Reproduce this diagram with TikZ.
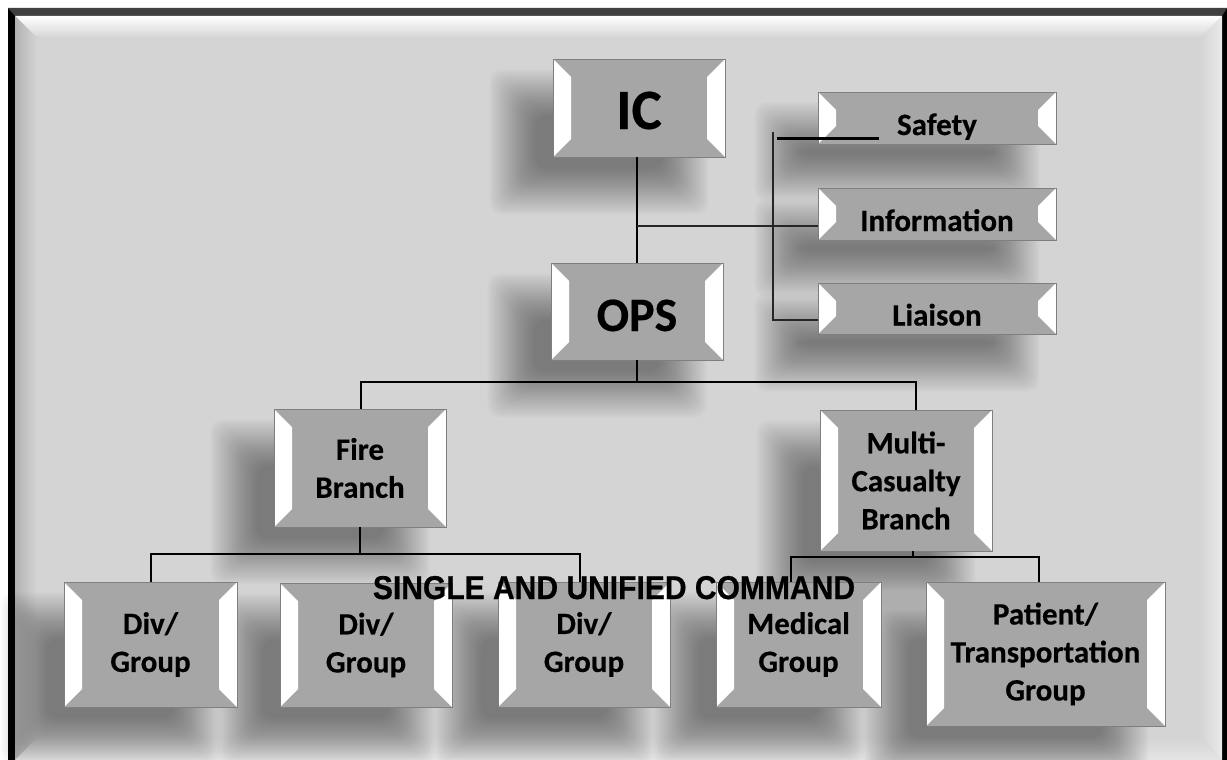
\documentclass[tikz,border=0pt]{standalone}
\usepackage{fontspec}
\setmainfont[FakeBold=0.4]{Carlito}
\newfontfamily\capfont[FakeBold=0.6]{Liberation Sans}
\usetikzlibrary{calc}
\definecolor{bggray}{HTML}{D4D4D4}
\definecolor{boxgray}{HTML}{A6A6A6}
\definecolor{edgegray}{HTML}{7F7F7F}
\pgfdeclarelayer{framelayer}
\pgfdeclarelayer{shadelayer}
\pgfsetlayers{framelayer,shadelayer,main}
\tikzset{
  bevbox/.style n args={2}{draw=edgegray, line width=0.8pt, fill=boxgray, inner sep=0pt,
    align=center, minimum width=#1, minimum height=#2,
    font=\bfseries\fontsize{31}{38}\selectfont,
    path picture={
      \fill[white] (path picture bounding box.north west) -- ++(18pt,-18pt)
        -- ([shift={(18pt,18pt)}]path picture bounding box.south west)
        -- (path picture bounding box.south west) -- cycle;
      \fill[white] (path picture bounding box.north east) -- ++(-18pt,-18pt)
        -- ([shift={(-18pt,18pt)}]path picture bounding box.south east)
        -- (path picture bounding box.south east) -- cycle;
    }},
  slim/.style={text height=34pt, text depth=0pt},
  shadowpiece/.style={fill=black, opacity=0.021, rounded corners=12pt},
  link/.style={line width=2pt, black},
  thinlink/.style={line width=1.1pt, black!85},
}
\newcommand\boxshade[1]{%
  \foreach \k in {0,...,23}{%
    \pgfmathsetmacro\ee{23-2*\k}%
    \pgfmathsetmacro\ax{-40-\ee}%
    \pgfmathsetmacro\ay{-34+\ee}%
    \pgfmathsetmacro\bx{-40+\ee}%
    \pgfmathsetmacro\by{-34-\ee}%
    \fill[shadowpiece] ([shift={(\ax pt,\ay pt)}]#1.north west)
      rectangle ([shift={(\bx pt,\by pt)}]#1.south east);
  }}
\begin{document}
\begin{tikzpicture}[x=1pt,y=-1pt]
\useasboundingbox (0,0) rectangle (1227,760);
% frame
\begin{pgfonlayer}{framelayer}
\fill[white] (0,0) rectangle (1227,760);
\fill[black] (8,8) rectangle (1227,760);
\fill[black!75] (8,8) -- (1227,8) -- (1222,16) -- (15,16) -- cycle;
\fill[bggray] (15,16) rectangle (1222,760);
\shade[top color=white, bottom color=bggray] (15,16) -- (1222,16) -- (1200,38) -- (37,38) -- cycle;
\shade[left color=black!30, right color=bggray] (15,16) -- (37,38) -- (37,738) -- (15,760) -- cycle;
\shade[left color=bggray, right color=black!8] (1222,16) -- (1200,38) -- (1200,738) -- (1222,760) -- cycle;
\shade[top color=bggray, bottom color=black!10] (37,738) -- (1200,738) -- (1222,760) -- (15,760) -- cycle;
\end{pgfonlayer}
% boxes
\node[bevbox={172pt}{98pt}, font=\bfseries\fontsize{57}{60}\selectfont,
      text height=42pt, text depth=0pt] (IC) at (639,108) {IC};
\node[bevbox={172pt}{97pt}, font=\bfseries\fontsize{48}{52}\selectfont,
      text height=39pt, text depth=0pt] (OPS) at (637,311.5) {OPS};
\node[bevbox={238pt}{52pt}, slim] (SAF) at (937,118) {Safety};
\node[bevbox={238pt}{52pt}, slim] (INF) at (937,214) {Information};
\node[bevbox={238pt}{51pt}, slim] (LIA) at (937,308.5) {Liaison};
\node[bevbox={172pt}{118pt}] (FB) at (360,468) {Fire\\Branch};
\node[bevbox={172pt}{141pt}] (MCB) at (906,480.5) {Multi-\\Casualty\\Branch};
\node[bevbox={173pt}{125pt}] (DG1) at (150.5,644.5) {Div/\\Group};
\node[bevbox={172pt}{124pt}] (DG2) at (366,645) {Div/\\Group};
\node[bevbox={172pt}{125pt}] (DG3) at (584,644.5) {Div/\\Group};
\node[bevbox={165pt}{125pt}] (MED) at (798.5,644.5) {Medical\\Group};
\node[bevbox={239pt}{144pt}] (PAT) at (1045.5,654) {Patient/\\Transportation\\Group};
% shadows
\begin{pgfonlayer}{shadelayer}
\foreach \n in {IC,OPS,SAF,INF,LIA,FB,MCB,DG1,DG2,DG3,MED,PAT}{\boxshade{\n}}
\end{pgfonlayer}
% connectors
\coordinate (J1) at (637,226);
\coordinate (V1) at (773,132);
\coordinate (V2) at (773,320);
\coordinate (S1) at (777,138);
\coordinate (S2) at (879,138);
\draw[link] (IC.south -| OPS.north) -- (OPS.north);
\draw[thinlink] (J1) -- (J1 -| INF.west);
\draw[thinlink] (V1) -- (V2) -- (V2 -| LIA.west);
\draw[line width=3pt] (S1) -- (S2);
\draw[link] (OPS.south) -- ++(0,22);
\draw[link] ([xshift=1pt]FB.north) -- ++(0,-27) -| ([xshift=10pt]MCB.north);
\draw[link] (FB.south) -- ++(0,27);
\draw[link] (DG1.north) -- ++(0,-28) -| ([xshift=-4pt]DG3.north);
\draw[link] ([xshift=7pt]MCB.south) -- ++(0,6);
\draw[link] ([xshift=-8pt]MED.north) -- ++(0,-25) -| ([xshift=-7pt]PAT.north);
% caption
\node[font=\capfont\bfseries\fontsize{33}{38}\selectfont, anchor=base, xscale=0.91] (TTL)
  at (614,599) {SINGLE AND UNIFIED COMMAND};
\end{tikzpicture}
\end{document}
